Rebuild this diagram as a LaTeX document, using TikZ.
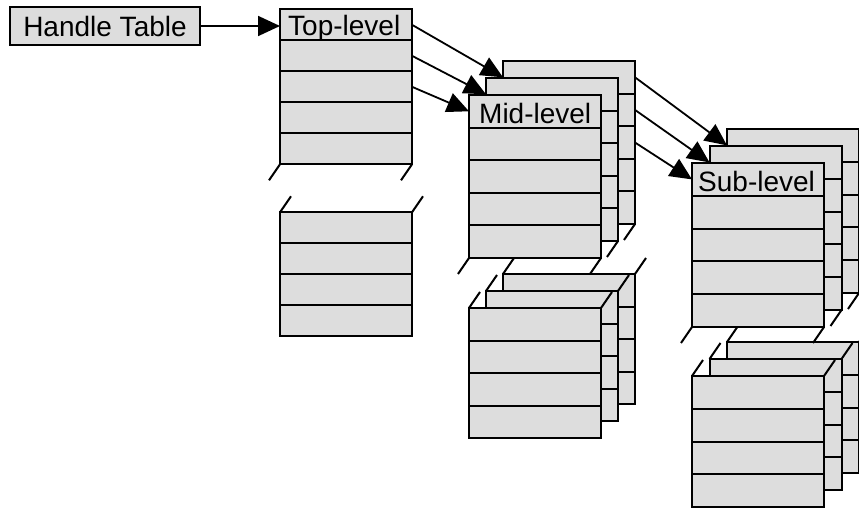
\documentclass[tikz,border=0pt]{standalone}
\usepackage{fontspec}
\setmainfont{Liberation Sans}
\usetikzlibrary{arrows.meta}
\definecolor{cellgray}{RGB}{221,221,221}
\tikzset{
x=1pt, y=-1pt, % one unit per pixel, y grows downwards
cell/.style={draw, fill=cellgray, line width=2pt, minimum width=132pt, inner sep=0pt, outer sep=0pt, anchor=north west}, % one row of a table
brk/.style={line width=2pt}, % the cut marks of a table
link/.style={-{Triangle[length=22pt,width=20pt]}, line width=1.8pt}, % pointers between tables
txt/.style={font=\fontsize{28}{32}\selectfont}, % size of all the text
lbl/.style={txt, inner sep=0pt, anchor=base west}, % title of a table
}
% one table: name, left, top, row height, gap of the cut
\newcommand{\tablelayer}[5]{%
\foreach \i in {1,...,5}
 \node[cell, minimum height=#4] (#1-\i) at (#2, {#3+(\i-1)*#4}) {};
\draw[brk] (#1-5.south west) -- ++(-11,16) (#1-5.south east) -- ++(-11,16);
\foreach \i in {6,...,9}
 \node[cell, minimum height=#4] (#1-\i) at (#2, {#3+(\i-1)*#4+#5}) {};
\draw[brk] (#1-6.north west) -- ++(11,-16) (#1-6.north east) -- ++(11,-16);
}

\begin{document}
\begin{tikzpicture}
\useasboundingbox (0,0) rectangle (859,508);

\node[cell, txt, minimum width=190pt, minimum height=38pt] (handle) at (10,7) {Handle Table};

\tablelayer{top}{280}{9.3}{31}{48}
\node[lbl] at ([xshift=8pt, yshift=4.5pt]top-1.south west) {Top-level};

\tablelayer{midC}{503}{61}{32.6}{50}
\tablelayer{midB}{486}{78}{32.6}{50}
\tablelayer{midA}{469}{95}{32.6}{50}
\node[lbl] at ([xshift=10pt, yshift=4.5pt]midA-1.south west) {Mid-level};

\tablelayer{subC}{727}{129}{32.8}{49}
\tablelayer{subB}{709.5}{146}{32.8}{49}
\tablelayer{subA}{692}{163}{32.8}{49}
\node[lbl] at ([xshift=6pt, yshift=4.5pt]subA-1.south west) {Sub-level};

\draw[link] (handle.east) -- (handle.east -| top-1.west);
\draw[link] (top-1.east) -- (midC-1.west);
\draw[link] (top-2.east) -- (midB-1.west);
\draw[link] (top-3.east) -- (midA-1.west);
\draw[link] (midC-1.east) -- (subC-1.west);
\draw[link] (midC-2.east) -- (subB-1.west);
\draw[link] (midC-3.east) -- (subA-1.west);

\end{tikzpicture}
\end{document}
